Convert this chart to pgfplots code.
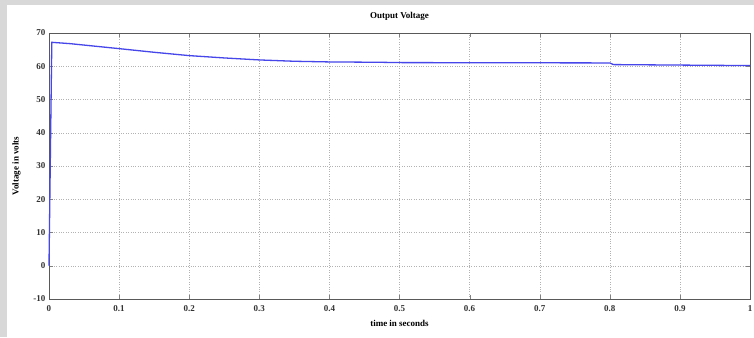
\documentclass[border=0pt]{standalone}
\usepackage{pgfplots}
\pgfplotsset{compat=1.18}
\usepackage{fontspec}
\setmainfont{Liberation Serif}
\definecolor{bggray}{RGB}{216,216,216}
\definecolor{linecol}{RGB}{70,70,235}
\begin{document}
\begin{tikzpicture}
\useasboundingbox (0pt,0pt) rectangle (754pt,337pt);
\fill[bggray] (0pt,0pt) rectangle (754pt,337pt);
\fill[white] (7pt,0pt) rectangle (754pt,332pt);
\begin{axis}[
  at={(49pt,38pt)}, anchor=south west,
  width=701pt, height=266pt, scale only axis,
  xmin=0, xmax=1, ymin=-10, ymax=70,
  xtick={0,0.1,...,1}, ytick={-10,0,...,70},
  xticklabel style={/pgf/number format/fixed, yshift=-3pt},
  /pgf/number format/assume math mode=true,
  tick label style={font=\bfseries\small, text=black!80},
  tick align=inside, tick pos=both,
  major tick length=4pt,
  axis line style={black!65, line width=0.9pt},
  grid=major,
  major grid style={dotted, black!30},
  title={\bfseries Output Voltage},
  title style={font=\bfseries\small, yshift=3pt},
  xlabel={\bfseries time in seconds},
  ylabel={\bfseries Voltage in volts},
  label style={font=\bfseries\small},
  xlabel style={yshift=-2pt},
  ylabel style={yshift=6pt},
  clip=false,
]
\addplot[linecol, line width=1.3pt] coordinates {
(0,0) (0.004,67.2) (0.03,66.8) (0.1,65.3) (0.15,64.2) (0.2,63.2)
(0.25,62.5) (0.3,61.9) (0.35,61.5) (0.4,61.3) (0.47,61.2) (0.5,61.1)
(0.8,61.0) (0.805,60.5) (1.0,60.2)
};
\end{axis}
\end{tikzpicture}
\end{document}
